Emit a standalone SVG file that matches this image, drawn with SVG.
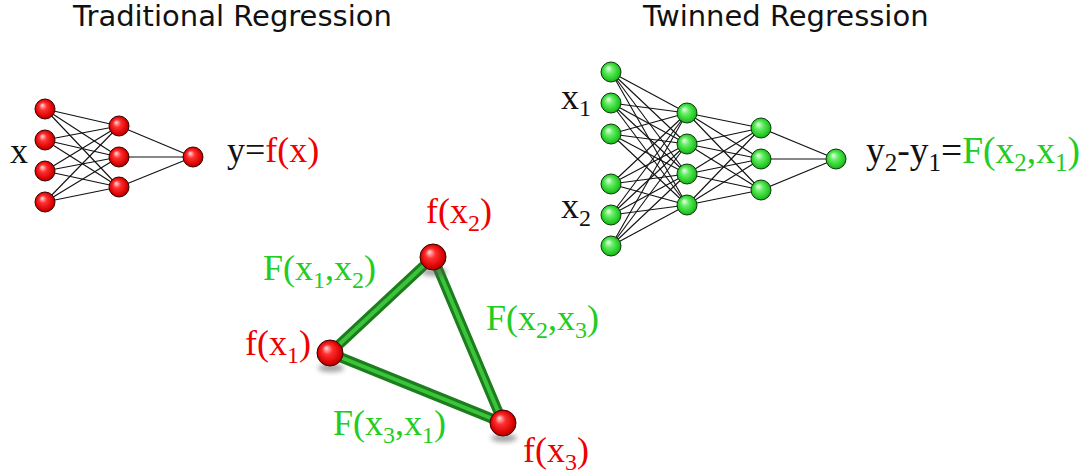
<svg xmlns="http://www.w3.org/2000/svg" width="1083" height="474" viewBox="0 0 1083 474">
<style>
.title{font-family:"DejaVu Sans",sans-serif;font-size:29px;fill:#111}
.lbl{font-family:"Liberation Serif","Times New Roman",serif;font-size:36px}
.blk{fill:#111}
.red{fill:#ee0000}
.grn{fill:#22cc22}
.nn line{stroke:#111;stroke-width:1.1}
.tube{stroke:#1b7d1b;stroke-width:10;stroke-linecap:round}
.tubein{stroke:#3cc33c;stroke-width:4;stroke-linecap:round}
.rn{fill:url(#gr);stroke:#3a0000;stroke-width:1}
.gn{fill:url(#gg);stroke:#0b3d0b;stroke-width:1}
.shadow{fill:#555;opacity:0.55;filter:url(#blur)}
</style>
<defs>
<radialGradient id="gr" cx="0.5" cy="0.5" r="0.55" fx="0.35" fy="0.3">
<stop offset="0" stop-color="#ffe0e0"/>
<stop offset="0.35" stop-color="#ff3030"/>
<stop offset="0.8" stop-color="#d80000"/>
<stop offset="1" stop-color="#8a0000"/>
</radialGradient>
<radialGradient id="gg" cx="0.5" cy="0.5" r="0.55" fx="0.35" fy="0.3">
<stop offset="0" stop-color="#f0fff0"/>
<stop offset="0.35" stop-color="#66ee66"/>
<stop offset="0.8" stop-color="#22c822"/>
<stop offset="1" stop-color="#138a13"/>
</radialGradient>
<filter id="blur" x="-50%" y="-50%" width="200%" height="200%"><feGaussianBlur stdDeviation="2.5"/></filter>
</defs>
<rect width="1083" height="474" fill="#fff"/>

<text class="title" x="73" y="26">Traditional Regression</text>
<text class="title" x="643" y="26">Twinned Regression</text>

<g id="connectors">
<g class="nn">
<line x1="45" y1="109" x2="119" y2="126"/><line x1="45" y1="109" x2="119" y2="157"/><line x1="45" y1="109" x2="119" y2="187"/>
<line x1="45" y1="140" x2="119" y2="126"/><line x1="45" y1="140" x2="119" y2="157"/><line x1="45" y1="140" x2="119" y2="187"/>
<line x1="45" y1="171" x2="119" y2="126"/><line x1="45" y1="171" x2="119" y2="157"/><line x1="45" y1="171" x2="119" y2="187"/>
<line x1="45" y1="202" x2="119" y2="126"/><line x1="45" y1="202" x2="119" y2="157"/><line x1="45" y1="202" x2="119" y2="187"/>
<line x1="119" y1="126" x2="193" y2="157"/><line x1="119" y1="157" x2="193" y2="157"/><line x1="119" y1="187" x2="193" y2="157"/>
<line x1="611" y1="72" x2="687" y2="113"/><line x1="611" y1="72" x2="687" y2="144"/><line x1="611" y1="72" x2="687" y2="174"/><line x1="611" y1="72" x2="687" y2="205"/>
<line x1="611" y1="103" x2="687" y2="113"/><line x1="611" y1="103" x2="687" y2="144"/><line x1="611" y1="103" x2="687" y2="174"/><line x1="611" y1="103" x2="687" y2="205"/>
<line x1="611" y1="134" x2="687" y2="113"/><line x1="611" y1="134" x2="687" y2="144"/><line x1="611" y1="134" x2="687" y2="174"/><line x1="611" y1="134" x2="687" y2="205"/>
<line x1="611" y1="184" x2="687" y2="113"/><line x1="611" y1="184" x2="687" y2="144"/><line x1="611" y1="184" x2="687" y2="174"/><line x1="611" y1="184" x2="687" y2="205"/>
<line x1="611" y1="215" x2="687" y2="113"/><line x1="611" y1="215" x2="687" y2="144"/><line x1="611" y1="215" x2="687" y2="174"/><line x1="611" y1="215" x2="687" y2="205"/>
<line x1="611" y1="246" x2="687" y2="113"/><line x1="611" y1="246" x2="687" y2="144"/><line x1="611" y1="246" x2="687" y2="174"/><line x1="611" y1="246" x2="687" y2="205"/>
<line x1="687" y1="113" x2="761" y2="128"/><line x1="687" y1="113" x2="761" y2="159"/><line x1="687" y1="113" x2="761" y2="190"/>
<line x1="687" y1="144" x2="761" y2="128"/><line x1="687" y1="144" x2="761" y2="159"/><line x1="687" y1="144" x2="761" y2="190"/>
<line x1="687" y1="174" x2="761" y2="128"/><line x1="687" y1="174" x2="761" y2="159"/><line x1="687" y1="174" x2="761" y2="190"/>
<line x1="687" y1="205" x2="761" y2="128"/><line x1="687" y1="205" x2="761" y2="159"/><line x1="687" y1="205" x2="761" y2="190"/>
<line x1="761" y1="128" x2="836" y2="159"/><line x1="761" y1="159" x2="836" y2="159"/><line x1="761" y1="190" x2="836" y2="159"/>
</g>
<g>
<line class="tube" x1="330" y1="353" x2="433" y2="257"/>
<line class="tube" x1="433" y1="257" x2="503" y2="423"/>
<line class="tube" x1="503" y1="423" x2="330" y2="353"/>
<line class="tubein" x1="330" y1="353" x2="433" y2="257"/>
<line class="tubein" x1="433" y1="257" x2="503" y2="423"/>
<line class="tubein" x1="503" y1="423" x2="330" y2="353"/>
</g>
</g>

<g id="L_in1"><circle class="rn" cx="45" cy="109" r="10"/></g>
<g id="L_in2"><circle class="rn" cx="45" cy="140" r="10"/></g>
<g id="L_in3"><circle class="rn" cx="45" cy="171" r="10"/></g>
<g id="L_in4"><circle class="rn" cx="45" cy="202" r="10"/></g>
<g id="L_h1"><circle class="rn" cx="119" cy="126" r="10"/></g>
<g id="L_h2"><circle class="rn" cx="119" cy="157" r="10"/></g>
<g id="L_h3"><circle class="rn" cx="119" cy="187" r="10"/></g>
<g id="L_out"><circle class="rn" cx="193" cy="157" r="10"/></g>

<g id="R_in1"><circle class="gn" cx="611" cy="72" r="10"/></g>
<g id="R_in2"><circle class="gn" cx="611" cy="103" r="10"/></g>
<g id="R_in3"><circle class="gn" cx="611" cy="134" r="10"/></g>
<g id="R_in4"><circle class="gn" cx="611" cy="184" r="10"/></g>
<g id="R_in5"><circle class="gn" cx="611" cy="215" r="10"/></g>
<g id="R_in6"><circle class="gn" cx="611" cy="246" r="10"/></g>
<g id="R_h1"><circle class="gn" cx="687" cy="113" r="10"/></g>
<g id="R_h2"><circle class="gn" cx="687" cy="144" r="10"/></g>
<g id="R_h3"><circle class="gn" cx="687" cy="174" r="10"/></g>
<g id="R_h4"><circle class="gn" cx="687" cy="205" r="10"/></g>
<g id="R_g1"><circle class="gn" cx="761" cy="128" r="10"/></g>
<g id="R_g2"><circle class="gn" cx="761" cy="159" r="10"/></g>
<g id="R_g3"><circle class="gn" cx="761" cy="190" r="10"/></g>
<g id="R_out"><circle class="gn" cx="836" cy="159" r="10"/></g>

<g id="T1"><ellipse class="shadow" cx="331" cy="368" rx="13" ry="4"/><circle class="rn" cx="330" cy="353" r="13"/></g>
<g id="T2"><ellipse class="shadow" cx="434" cy="272" rx="13" ry="4"/><circle class="rn" cx="433" cy="257" r="13"/></g>
<g id="T3"><ellipse class="shadow" cx="504" cy="438" rx="13" ry="4"/><circle class="rn" cx="503" cy="423" r="13"/></g>

<g id="labels" class="lbl">
<text class="blk" x="10" y="163">x</text>
<text x="227" y="162"><tspan class="blk">y=</tspan><tspan class="red">f(x)</tspan></text>
<text class="blk" x="561" y="109">x<tspan font-size="24" dy="7">1</tspan></text>
<text class="blk" x="561" y="218">x<tspan font-size="24" dy="8">2</tspan></text>
<text x="866" y="163" font-size="37.5"><tspan class="blk">y<tspan font-size="25" dy="8">2</tspan><tspan dy="-8">-y</tspan><tspan font-size="25" dy="8">1</tspan><tspan dy="-8">=</tspan></tspan><tspan class="grn">F(x<tspan font-size="25" dy="8">2</tspan><tspan dy="-8">,x</tspan><tspan font-size="25" dy="8">1</tspan><tspan dy="-8">)</tspan></tspan></text>
<text class="red" x="426" y="223">f(x<tspan font-size="24" dy="8">2</tspan><tspan dy="-8">)</tspan></text>
<text class="grn" x="263" y="280">F(x<tspan font-size="24" dy="8">1</tspan><tspan dy="-8">,x</tspan><tspan font-size="24" dy="8">2</tspan><tspan dy="-8">)</tspan></text>
<text class="red" x="245" y="355">f(x<tspan font-size="24" dy="8">1</tspan><tspan dy="-8">)</tspan></text>
<text class="grn" x="486" y="330">F(x<tspan font-size="24" dy="8">2</tspan><tspan dy="-8">,x</tspan><tspan font-size="24" dy="8">3</tspan><tspan dy="-8">)</tspan></text>
<text class="grn" x="333" y="435">F(x<tspan font-size="24" dy="8">3</tspan><tspan dy="-8">,x</tspan><tspan font-size="24" dy="8">1</tspan><tspan dy="-8">)</tspan></text>
<text class="red" x="523" y="462">f(x<tspan font-size="24" dy="8">3</tspan><tspan dy="-8">)</tspan></text>
</g>
</svg>
